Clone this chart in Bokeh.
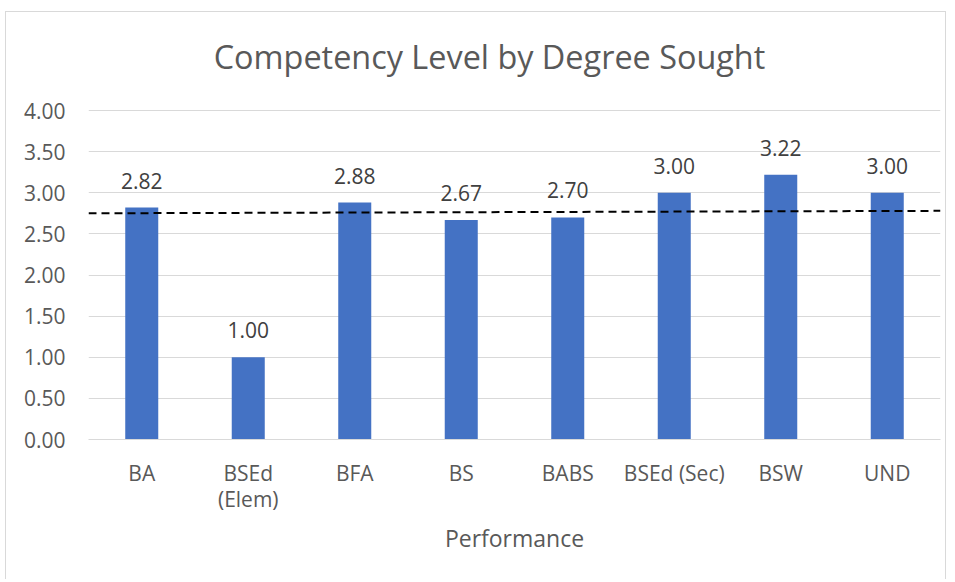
from bokeh.plotting import figure
from bokeh.models import ColumnDataSource, FixedTicker, Label
from bokeh.core.properties import value
from bokeh.embed import file_html
from bokeh.resources import INLINE

title_text = "Competency Level by Degree Sought"
x_title = "Performance"
categories = ["BA", "BSEd\n(Elem)", "BFA", "BS", "BABS", "BSEd (Sec)", "BSW", "UND"]
scores = [2.82, 1.00, 2.88, 2.67, 2.70, 3.00, 3.22, 3.00]
trend_ends = [2.75, 2.78]
y_ticks = [0.0, 0.5, 1.0, 1.5, 2.0, 2.5, 3.0, 3.5, 4.0]

FONT = "Open Sans"
PX_PER_UNIT = 82.25          # vertical scale of the value axis, in pixels
HEADROOM_PX = 90             # space above the 4.00 gridline that holds the title
xs = list(range(1, len(categories) + 1))
src = ColumnDataSource(dict(x=xs, y=scores, lbl=[f"{v:.2f}" for v in scores]))

y_top = y_ticks[-1] + HEADROOM_PX / PX_PER_UNIT
p = figure(width=941, height=568, output_backend="svg", toolbar_location=None, title=None,
           x_range=(0.5, len(categories) + 0.5), y_range=(0, y_top),
           min_border_left=82, min_border_right=7, min_border_top=8, min_border_bottom=141)
p.styles = {"margin-left": "5px", "margin-top": "11px",
            "border-left": "1px solid #D9D9D9", "border-top": "1px solid #D9D9D9",
            "border-right": "1px solid #D9D9D9"}
p.outline_line_color = None
p.background_fill_color = "white"
p.border_fill_color = "white"

p.add_layout(Label(x=(len(categories) + 1) / 2, y=y_ticks[-1], x_offset=-25, y_offset=55,
                   text=title_text, text_align="center", text_baseline="middle",
                   text_font=FONT, text_font_size="32.4px", text_color="#595959"))

p.vbar(x="x", top="y", width=0.31, source=src, fill_color="#4472C4", line_color=None)
p.line(x=[0.5, len(categories) + 0.5], y=trend_ends, line_color="black", line_width=2,
       line_dash="8 5")
p.text(x="x", y="y", text="lbl", source=src, text_align="center", text_baseline="bottom",
       y_offset=-19, text_font=value(FONT), text_font_size="21px", text_color="#404040")

p.xgrid.grid_line_color = None
p.ygrid.grid_line_color = "#D9D9D9"
p.ygrid.grid_line_width = 1
p.yaxis.ticker = FixedTicker(ticks=y_ticks)
p.yaxis.major_label_overrides = {t: f"{t:.2f}" for t in y_ticks}
p.yaxis.axis_line_color = None
p.yaxis.major_label_standoff = 23

p.xaxis.ticker = FixedTicker(ticks=xs)
p.xaxis.major_label_overrides = {x: c for x, c in zip(xs, categories)}
p.xaxis.axis_line_color = "#D9D9D9"
p.xaxis.major_label_standoff = 19
p.xaxis.major_label_text_line_height = 0.95
p.xaxis.axis_label = x_title
p.xaxis.axis_label_standoff = 6
p.xaxis.axis_label_text_font_style = "normal"

for ax in (p.xaxis, p.yaxis):
    ax.major_tick_line_color = None
    ax.minor_tick_line_color = None
    ax.major_tick_out = 0
    ax.major_tick_in = 0
    ax.minor_tick_out = 0
    ax.major_label_text_font = FONT
    ax.major_label_text_font_size = "21px"
    ax.major_label_text_color = "#595959"
    ax.axis_label_text_font = FONT
    ax.axis_label_text_font_size = "23px"
    ax.axis_label_text_color = "#595959"

open("out.html", "w").write(file_html(p, INLINE))
